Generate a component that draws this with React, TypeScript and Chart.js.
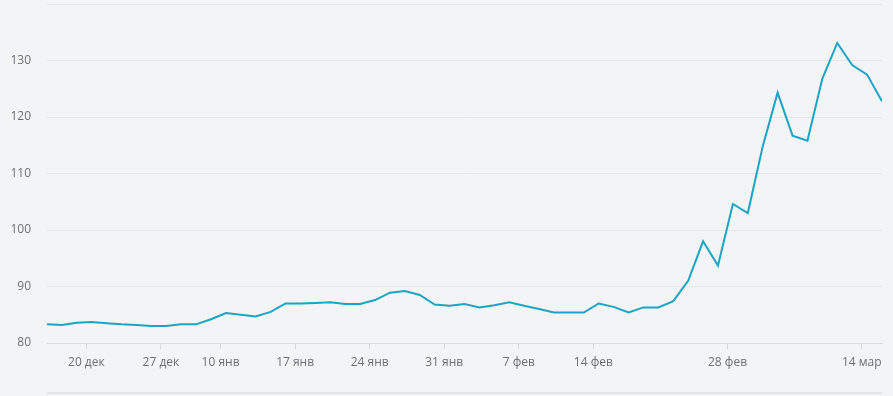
import React, { useEffect, useRef } from 'react';
import { Chart, registerables } from 'chart.js';

Chart.register(...registerables);

const dates = [
  '15 дек', '16 дек', '17 дек', '20 дек', '21 дек', '22 дек', '23 дек', '24 дек',
  '27 дек', '28 дек', '29 дек', '30 дек',
  '10 янв', '11 янв', '12 янв', '13 янв', '14 янв',
  '17 янв', '18 янв', '19 янв', '20 янв', '21 янв',
  '24 янв', '25 янв', '26 янв', '27 янв', '28 янв',
  '31 янв', '1 фев', '2 фев', '3 фев', '4 фев',
  '7 фев', '8 фев', '9 фев', '10 фев', '11 фев',
  '14 фев', '15 фев', '16 фев', '17 фев', '18 фев',
  '21 фев', '22 фев', '24 фев', '25 фев',
  '28 фев', '1 мар', '2 мар', '3 мар', '4 мар',
  '5 мар', '9 мар', '10 мар', '11 мар',
  '14 мар', '15 мар',
];

const values = [
  83.3, 83.2, 83.6, 83.7, 83.5, 83.3, 83.2, 83.0,
  83.0, 83.3, 83.3, 84.2,
  85.3, 85.0, 84.7, 85.5, 87.0,
  87.0, 87.1, 87.2, 86.9, 86.9,
  87.6, 88.9, 89.2, 88.5, 86.8,
  86.6, 86.9, 86.3, 86.7, 87.2,
  86.6, 86.0, 85.4, 85.4, 85.4,
  87.0, 86.4, 85.4, 86.3, 86.3,
  87.4, 91.0, 98.0, 93.7,
  104.6, 103.0, 114.8, 124.3, 116.7,
  115.8, 126.8, 133.1, 129.2,
  127.5, 122.8,
];

const tickDates = ['20 дек', '27 дек', '10 янв', '17 янв', '24 янв', '31 янв', '7 фев', '14 фев', '28 фев', '14 мар'];
const yTickValues = [80, 90, 100, 110, 120, 130];
const yMax = 140;
const TICK_SHIFT = 0.36;

export default function App() {
  const ref = useRef<HTMLCanvasElement>(null);

  useEffect(() => {
    const bg = {
      id: 'bg',
      beforeDraw(chart: any) {
        const { ctx, chartArea, width, height } = chart;
        ctx.save();
        ctx.fillStyle = '#f3f4f6';
        ctx.fillRect(0, 0, width, height);
        ctx.strokeStyle = '#e3e5e9';
        ctx.lineWidth = 2;
        ctx.beginPath();
        ctx.moveTo(chartArea.left, height - 3);
        ctx.lineTo(chartArea.right, height - 3);
        ctx.stroke();
        ctx.restore();
      },
    };

    const font = { family: '"Open Sans", "Noto Sans", sans-serif', size: 12 };

    const chart = new Chart(ref.current as HTMLCanvasElement, {
      type: 'line',
      data: {
        datasets: [
          {
            data: values.map((v, i) => ({ x: i, y: v })),
            borderColor: '#1ba4c5',
            borderWidth: 2,
            pointRadius: 0,
            tension: 0,
            fill: false,
          },
        ],
      },
      options: {
        animation: false,
        responsive: false,
        maintainAspectRatio: false,
        layout: { padding: { top: 4, right: 11, left: 0, bottom: 0 } },
        plugins: { legend: { display: false }, tooltip: { enabled: false }, title: { display: false } },
        scales: {
          x: {
            type: 'linear',
            min: 0,
            max: values.length - 1,
            afterBuildTicks(scale: any) {
              scale.ticks = tickDates.map((d) => ({ value: dates.indexOf(d) - TICK_SHIFT }));
            },
            afterFit(scale: any) {
              scale.height = 53;
              scale.paddingLeft = 0;
              scale.paddingRight = 0;
            },
            grid: { drawOnChartArea: false, drawTicks: true, tickLength: 6, tickColor: '#d3d6db' },
            border: { display: true, color: '#d9dce0', width: 1 },
            ticks: {
              autoSkip: false,
              maxRotation: 0,
              padding: 6,
              color: '#6b7076',
              font,
              callback: (v: any) => dates[Math.round(Number(v) + TICK_SHIFT)] ?? '',
            },
          },
          y: {
            min: 80,
            max: yMax,
            afterBuildTicks(scale: any) {
              scale.ticks = [...yTickValues, yMax].map((v) => ({ value: v }));
            },
            afterFit(scale: any) {
              scale.width = 47;
              scale.paddingTop = 0;
              scale.paddingBottom = 0;
            },
            grid: { color: '#e5e7ea', drawTicks: false },
            border: { display: false },
            ticks: {
              padding: 16,
              color: '#6b7076',
              font,
              callback: (v: any) => (yTickValues.includes(Number(v)) ? String(v) : ''),
            },
          },
        },
      },
      plugins: [bg],
    } as any);

    return () => chart.destroy();
  }, []);

  return (
    <div style={{ position: 'fixed', left: 0, top: 0, width: 893, height: 396, background: '#f3f4f6' }}>
      <canvas ref={ref} width={893} height={396} style={{ display: 'block' }} />
    </div>
  );
}
